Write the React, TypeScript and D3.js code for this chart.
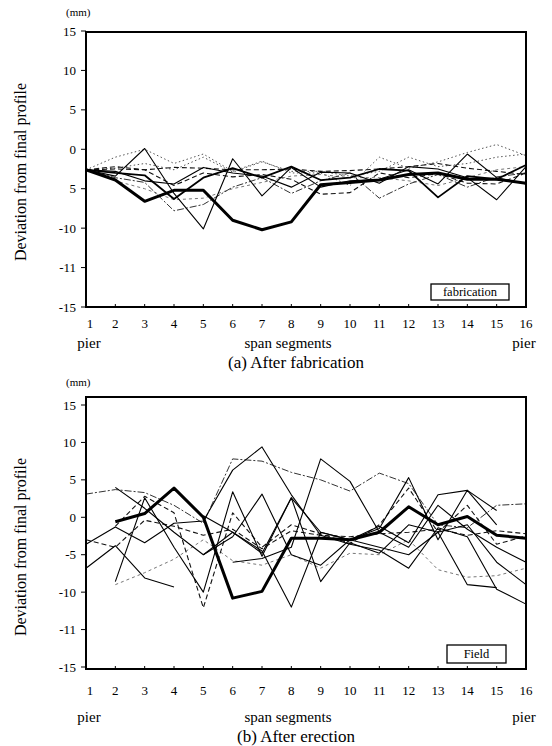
import React, { useRef, useEffect } from 'react';
import * as d3 from 'd3';

// span segments along the girder (pier to pier)
const segments = [1, 2, 3, 4, 5, 6, 7, 8, 9, 10, 11, 12, 13, 14, 15, 16];

// y ticks as positioned on the scan, with the labels as printed
const yTicks = [15, 10, 5, 0, -5, -10, -15, -20];
const yLabelsFab = ['15', '10', '5', '0', '5', '-10', '-11', '-15'];
const yLabelsField = ['15', '10', '5', '0', '-5', '-10', '-11', '-15'];

type V = number | null;
const _ = null;

// (a) after fabrication, deviation in mm
const fabThick: V[] = [-2.6, -3.9, -6.6, -5.2, -5.2, -9.0, -10.2, -9.2, -4.5, -4.2, -3.9, -3.2, -3.0, -3.8, -3.8, -4.3];
const fabSolid1: V[] = [-2.6, -3.4, 0.1, -5.6, -10.1, -1.2, -5.9, -2.3, -4.8, -4.0, -3.8, -2.6, -4.4, -0.6, -3.6, -4.4];
const fabSolid2: V[] = [-2.6, -3.0, -3.3, -6.3, -3.6, -2.4, -3.6, -2.2, -3.9, -3.6, -2.5, -2.7, -6.1, -3.4, -3.8, -2.0];
const fabSolid3: V[] = [-2.6, -2.8, -4.0, -4.4, -2.3, -3.0, -3.4, -4.8, -2.9, -3.0, -4.3, -2.2, -2.5, -3.6, -6.4, -2.2];
const fabDash1: V[] = [-2.6, -2.5, -2.6, -2.3, -2.4, -2.6, -2.6, -2.5, -2.8, -2.7, -2.5, -2.2, -1.8, -2.4, -2.8, -3.2];
const fabDash2: V[] = [-2.6, -2.2, -2.6, -4.6, -3.0, -3.5, -3.2, -3.8, -5.7, -5.5, -3.0, -3.6, -3.1, -4.3, -4.4, -3.0];
const fabDot1: V[] = [-2.6, -1.0, 0.0, -1.8, -0.6, -2.8, -1.5, -3.0, -3.0, -4.6, -1.0, -2.4, -1.6, -0.4, 0.6, -0.8];
const fabDashDot: V[] = [-2.6, -3.6, -4.2, -7.8, -7.0, -4.8, -3.6, -5.6, -4.0, -3.0, -6.2, -4.4, -3.2, -4.8, -3.5, -3.0];
const fabDash3: V[] = [-2.6, -4.0, -5.0, -6.4, -6.2, -5.0, -4.2, -3.4, -3.2, -3.6, -3.6, -4.0, -4.6, -3.6, -2.6, -2.2];
const fabDot2: V[] = [-2.6, -2.4, -1.8, -2.6, -1.0, -2.9, -1.6, -2.8, -2.8, -3.4, -2.8, -1.0, -2.2, -1.8, -1.0, -0.6];

// (b) after erection, deviation in mm
const fieldThick: V[] = [_, -0.6, 0.5, 3.9, 0.0, -10.8, -9.9, -2.8, -2.8, -3.0, -2.0, 1.4, -1.0, 0.1, -2.4, -2.8];
const fieldSolid1: V[] = [_, 4.0, 1.2, -2.0, -5.0, -2.0, -4.5, -12.0, -2.0, -3.0, -1.5, 5.3, -3.0, 3.6, 0.9, _];
const fieldSolid2: V[] = [-3.6, -1.3, -3.4, -0.8, -0.5, 6.3, 9.4, 3.0, -2.4, -3.6, -4.4, -6.8, -1.4, -2.6, -9.6, -11.6];
const fieldSolid3: V[] = [-6.8, -3.8, -8.1, -9.3, _, _, _, _, _, _, _, _, _, _, _, _];
const fieldSolid4: V[] = [_, -8.6, 2.6, -4.0, -10.0, 3.4, -5.2, 2.6, -8.6, -3.4, -4.8, -1.0, -2.0, -9.0, -9.4, _];
const fieldSolid5: V[] = [_, _, _, _, _, -6.0, -5.5, -4.0, 7.8, 4.8, -2.0, -4.0, 1.6, -1.6, -4.0, -6.0];
const fieldSolid6: V[] = [_, _, _, _, -5.0, -2.6, 3.1, -5.0, -6.4, -3.0, -1.2, -3.4, 3.0, 3.6, -1.0, _];
const fieldSolid7: V[] = [_, _, _, _, 0.2, -2.0, -4.8, 2.6, -2.0, -3.0, -4.0, -5.0, -2.0, -1.0, -6.0, -9.0];
const fieldDash1: V[] = [_, -1.2, 2.8, 0.6, -12.1, 0.6, -4.0, -1.0, -2.2, -3.5, -1.0, 3.9, -2.0, 1.6, -3.6, -2.5];
const fieldDashDot1: V[] = [3.1, 3.7, 3.3, 1.6, -0.8, 7.8, 7.5, 6.0, 5.0, 3.5, 5.9, 4.5, -1.0, -1.4, 1.6, 1.8];
const fieldDash2: V[] = [_, -9.0, -7.4, -5.6, -3.0, -5.8, -6.4, -5.0, -6.8, -4.8, -5.0, -3.0, -7.0, -8.0, -7.8, -6.8];
const fieldDashDot2: V[] = [-3.0, -4.0, -0.4, -1.2, -2.4, -1.6, -4.2, -1.8, -2.4, -2.6, -2.2, -2.0, -1.6, -2.4, -1.8, -2.2];

const STY: Record<string, { w: number; dash: string | null; color: string }> = {
  thick: { w: 3, dash: null, color: '#000' },
  medium: { w: 1.8, dash: null, color: '#000' },
  solid: { w: 1.1, dash: null, color: '#000' },
  dashed: { w: 1.1, dash: '5,3', color: '#111' },
  dotted: { w: 1, dash: '1.5,2.5', color: '#555' },
  dashdot: { w: 1, dash: '7,2,2,2', color: '#333' },
  light: { w: 1, dash: '3,3', color: '#777' },
};

const fabSeries = [
  { v: fabDot1, s: 'dotted' },
  { v: fabDot2, s: 'dotted' },
  { v: fabDash3, s: 'light' },
  { v: fabDashDot, s: 'dashdot' },
  { v: fabDash1, s: 'dashed' },
  { v: fabDash2, s: 'dashed' },
  { v: fabSolid3, s: 'solid' },
  { v: fabSolid1, s: 'solid' },
  { v: fabSolid2, s: 'medium' },
  { v: fabThick, s: 'thick' },
];

const fieldSeries = [
  { v: fieldDash2, s: 'light' },
  { v: fieldDashDot1, s: 'dashdot' },
  { v: fieldDashDot2, s: 'dashed' },
  { v: fieldDash1, s: 'dashed' },
  { v: fieldSolid1, s: 'solid' },
  { v: fieldSolid2, s: 'solid' },
  { v: fieldSolid3, s: 'solid' },
  { v: fieldSolid4, s: 'solid' },
  { v: fieldSolid5, s: 'solid' },
  { v: fieldSolid6, s: 'solid' },
  { v: fieldSolid7, s: 'solid' },
  { v: fieldThick, s: 'thick' },
];

const W = 552;
const H = 746;
const FONT = '"Liberation Serif", "DejaVu Serif", serif';

const App = () => {
  const ref = useRef<SVGSVGElement>(null);

  useEffect(() => {
    const svg = d3.select(ref.current);
    svg.selectAll('*').remove();

    const drawPanel = (cfg: any) => {
      const x = d3.scaleLinear().domain([1, 16]).range([86, 526]);
      const y = d3.scaleLinear().domain([-20, 15]).range(cfg.yRange);
      const g = svg.append('g');

      g.append('text').attr('x', 66).attr('y', cfg.mmY).attr('font-size', 11)
        .attr('font-family', FONT).text('(mm)');

      // y title
      g.append('text')
        .attr('transform', `translate(26,${cfg.titleY}) rotate(-90)`)
        .attr('text-anchor', 'middle').attr('font-size', 16).attr('font-family', FONT)
        .text('Deviation from final profile');

      // y ticks
      yTicks.forEach((t, i) => {
        g.append('line').attr('x1', 81).attr('x2', 86).attr('y1', y(t)).attr('y2', y(t))
          .attr('stroke', '#000').attr('stroke-width', 1);
        g.append('text').attr('x', 76).attr('y', y(t)).attr('dy', '0.35em')
          .attr('text-anchor', 'end').attr('font-size', 13).attr('font-family', FONT)
          .text(cfg.yLabels[i]);
      });

      // series
      const clipId = 'clip' + cfg.key;
      g.append('clipPath').attr('id', clipId).append('rect')
        .attr('x', 85).attr('y', cfg.frame[0]).attr('width', 442).attr('height', cfg.frame[1] - cfg.frame[0]);
      const line = d3.line<V>()
        .defined((d) => d != null)
        .x((d, i) => x(segments[i]))
        .y((d) => y(d as number));
      cfg.series.forEach((sr: any) => {
        const st = STY[sr.s];
        g.append('path').attr('d', line(sr.v)).attr('fill', 'none')
          .attr('clip-path', `url(#${clipId})`)
          .attr('stroke', st.color).attr('stroke-width', st.w)
          .attr('stroke-dasharray', st.dash)
          .attr('stroke-linejoin', 'round');
      });

      // frame
      g.append('rect').attr('x', 86).attr('y', cfg.frame[0])
        .attr('width', 440).attr('height', cfg.frame[1] - cfg.frame[0])
        .attr('fill', 'none').attr('stroke', '#000').attr('stroke-width', 2);

      // x ticks + labels
      segments.forEach((s) => {
        g.append('line').attr('x1', x(s)).attr('x2', x(s))
          .attr('y1', cfg.frame[1]).attr('y2', cfg.frame[1] - 3)
          .attr('stroke', '#000').attr('stroke-width', 1);
        g.append('text').attr('x', x(s) + (s === 1 ? 4 : 0)).attr('y', cfg.xLabY)
          .attr('text-anchor', 'middle').attr('font-size', 13).attr('font-family', FONT)
          .text(String(s));
      });

      [[1, 'pier'], [16, 'pier']].forEach(([s, t]) => {
        g.append('text').attr('x', x(s as number) + (s === 1 ? 3 : -2)).attr('y', cfg.pierY)
          .attr('text-anchor', 'middle').attr('font-size', 15).attr('font-family', FONT).text(t as string);
      });
      g.append('text').attr('x', 288).attr('y', cfg.pierY).attr('text-anchor', 'middle')
        .attr('font-size', 15).attr('font-family', FONT).text('span segments');
      g.append('text').attr('x', 296).attr('y', cfg.capY).attr('text-anchor', 'middle')
        .attr('font-size', 17).attr('font-family', FONT).text(cfg.caption);

      // legend box
      const [bx, by, bw, bh] = cfg.box;
      g.append('rect').attr('x', bx).attr('y', by).attr('width', bw).attr('height', bh)
        .attr('fill', '#fff').attr('stroke', '#000').attr('stroke-width', 1.3);
      g.append('text').attr('x', bx + bw / 2).attr('y', by + bh / 2).attr('dy', '0.35em')
        .attr('text-anchor', 'middle').attr('font-size', 12.5).attr('font-family', FONT).text(cfg.boxText);
    };

    drawPanel({
      key: 'a', yRange: [307, 31], frame: [32, 307], mmY: 16, titleY: 172,
      yLabels: yLabelsFab, series: fabSeries, xLabY: 328, pierY: 348, capY: 368,
      caption: '(a) After fabrication', box: [431, 284, 78, 16], boxText: 'fabrication',
    });
    drawPanel({
      key: 'b', yRange: [667, 405], frame: [397, 669], mmY: 386, titleY: 547,
      yLabels: yLabelsField, series: fieldSeries, xLabY: 695, pierY: 722, capY: 742,
      caption: '(b) After erection', box: [447, 645, 59, 18], boxText: 'Field',
    });
  }, []);

  return (
    <svg ref={ref} width={W} height={H}
      style={{ position: 'absolute', left: 0, top: 0, background: '#fff' }} />
  );
};

export default App;
